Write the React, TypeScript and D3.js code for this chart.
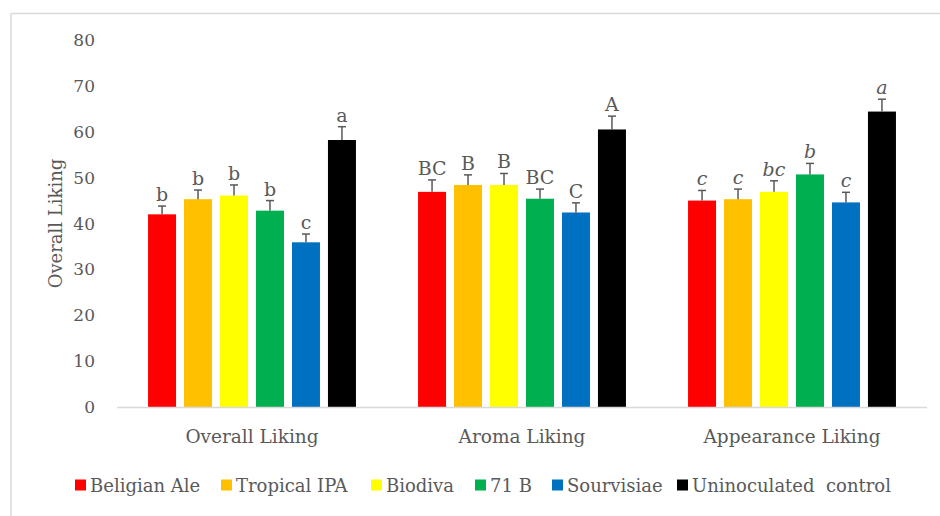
import React from "react";
import * as d3 from "d3";

const categories = ["Overall Liking", "Aroma Liking", "Appearance Liking"];
const seriesNames = ["Beligian Ale", "Tropical IPA", "Biodiva", "71 B", "Sourvisiae", "Uninoculated  control"];
const seriesColors = ["#FF0000", "#FFC000", "#FFFF00", "#00B050", "#0070C0", "#000000"];

// values[series][category]
const values = [
  [42.0, 46.9, 45.0],
  [45.3, 48.4, 45.3],
  [46.1, 48.4, 46.9],
  [42.8, 45.4, 50.7],
  [35.9, 42.4, 44.6],
  [58.2, 60.5, 64.4],
];
const errors = [
  [1.8, 2.6, 2.2],
  [2.0, 2.2, 2.2],
  [2.3, 2.5, 2.4],
  [2.2, 2.1, 2.4],
  [1.8, 2.1, 2.2],
  [2.9, 2.9, 2.7],
];
const letters = [
  ["b", "BC", "c"],
  ["b", "B", "c"],
  ["b", "B", "bc"],
  ["b", "BC", "b"],
  ["c", "C", "c"],
  ["a", "A", "a"],
];
const italicCategory = [false, false, true];
const yTicks = [0, 10, 20, 30, 40, 50, 60, 70, 80];
const yTitle = "Overall Liking";

const W = 940;
const H = 516;
const FONT = "'DejaVu Serif', serif";
const TXT = "#595959";

export default function App() {
  const x0 = d3
    .scaleBand<string>()
    .domain(categories)
    .range([117, 927])
    .paddingInner(0.23)
    .paddingOuter(0.115);
  const x1 = d3
    .scaleBand<string>()
    .domain(seriesNames)
    .range([0, x0.bandwidth()])
    .paddingInner(0.222)
    .paddingOuter(0);
  const y = d3.scaleLinear().domain([0, 80]).range([407, 40]);

  // legend layout
  const legendX = [75, 221, 371, 475, 552, 677];

  return (
    <svg
      width={W}
      height={H}
      style={{ position: "fixed", left: 0, top: 0, background: "#fff" }}
      fontFamily={FONT}
    >
      <rect x={0} y={0} width={W} height={H} fill="#fff" />
      {/* frame */}
      <line x1={11} x2={W} y1={13.5} y2={13.5} stroke="#d9d9d9" strokeWidth={1.5} />
      <line x1={11} x2={11} y1={13.5} y2={H} stroke="#d9d9d9" strokeWidth={1.5} />

      {/* y ticks */}
      {yTicks.map((t) => (
        <text
          key={t}
          x={95}
          y={y(t)}
          dy="0.36em"
          textAnchor="end"
          fontSize={17}
          fill={TXT}
        >
          {t}
        </text>
      ))}
      <text
        transform={`translate(62,${(y(0) + y(80)) / 2}) rotate(-90)`}
        textAnchor="middle"
        fontSize={18}
        fill={TXT}
      >
        {yTitle}
      </text>

      {/* bars */}
      {categories.map((c, ci) => (
        <g key={c} transform={`translate(${x0(c)},0)`}>
          {seriesNames.map((s, si) => {
            const v = values[si][ci];
            const e = errors[si][ci];
            const bx = x1(s)!;
            const bw = x1.bandwidth();
            const cx = bx + bw / 2;
            return (
              <g key={s}>
                <rect
                  x={bx}
                  y={y(v)}
                  width={bw}
                  height={y(0) - y(v)}
                  fill={seriesColors[si]}
                />
                <line x1={cx} x2={cx} y1={y(v)} y2={y(v + e)} stroke={TXT} strokeWidth={1.5} />
                <line x1={cx - 4} x2={cx + 4} y1={y(v + e)} y2={y(v + e)} stroke={TXT} strokeWidth={1.5} />
                <text
                  x={cx}
                  y={y(v + e) - 5}
                  textAnchor="middle"
                  fontSize={19}
                  fontStyle={italicCategory[ci] ? "italic" : "normal"}
                  fill={TXT}
                >
                  {letters[si][ci]}
                </text>
              </g>
            );
          })}
        </g>
      ))}

      {/* baseline */}
      <line x1={117} x2={927} y1={y(0) + 0.5} y2={y(0) + 0.5} stroke="#d9d9d9" strokeWidth={1.5} />

      {/* x labels */}
      {categories.map((c) => (
        <text
          key={c}
          x={x0(c)! + x0.bandwidth() / 2}
          y={443}
          textAnchor="middle"
          fontSize={18.5}
          fill={TXT}
        >
          {c}
        </text>
      ))}

      {/* legend */}
      {seriesNames.map((s, i) => (
        <g key={s} transform={`translate(${legendX[i]},0)`}>
          <rect x={0} y={479.5} width={11} height={11} fill={seriesColors[i]} />
          <text x={15} y={492} fontSize={18} fill={TXT} style={{ whiteSpace: "pre" }}>
            {s}
          </text>
        </g>
      ))}
    </svg>
  );
}
